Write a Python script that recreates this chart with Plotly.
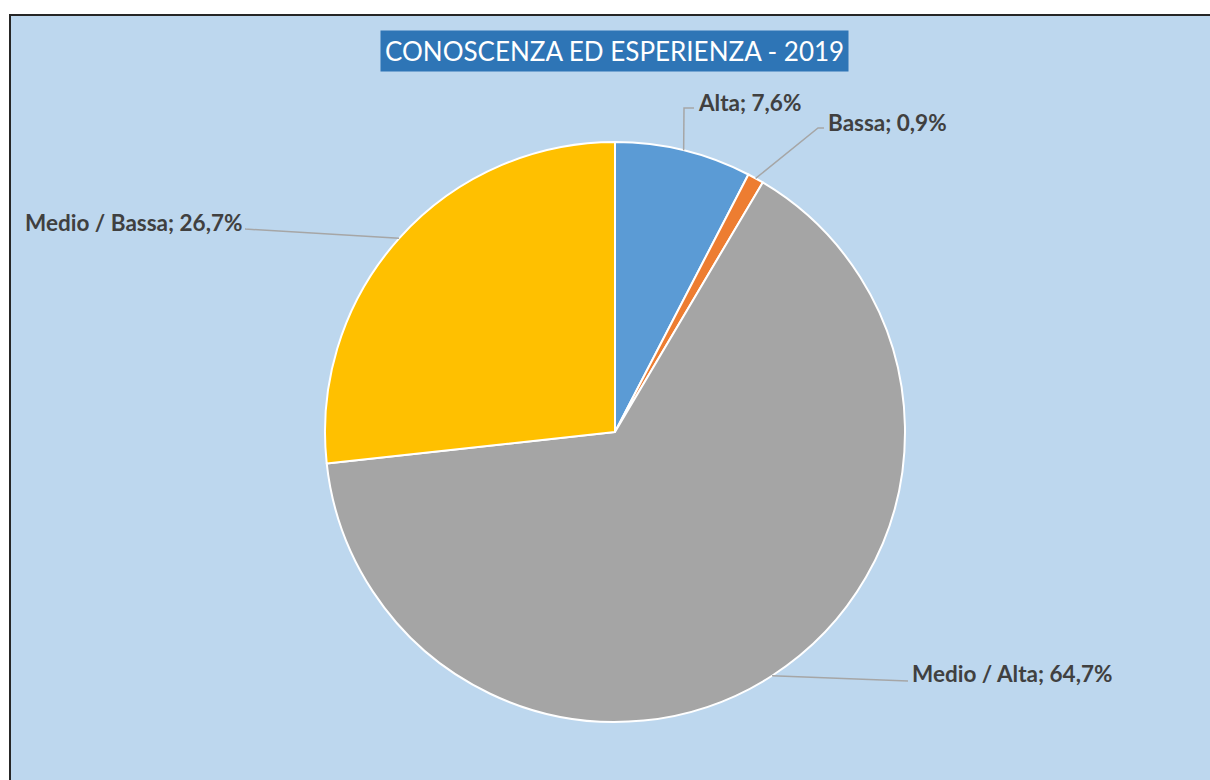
import numpy as np
import plotly.graph_objects as go

# dati del grafico
etichette = ["Alta", "Bassa", "Medio / Alta", "Medio / Bassa"]
valori = [7.6, 0.9, 64.7, 26.7]
colori = ["#5B9BD5", "#ED7D31", "#A5A5A5", "#FFC000"]
titolo = "CONOSCENZA ED ESPERIENZA - 2019"

W, H = 1210, 780
CX, CY, R = 615, 432, 290  # centro e raggio della torta (pixel)


def px(x):
    return x / W


def py(y):
    return 1 - y / H


# punto del bordo a metà di ogni fetta (senso orario da ore 12)
tot = sum(valori)
cum = np.cumsum([0] + valori[:-1])
mid = [(c + v / 2) / tot * 2 * np.pi for c, v in zip(cum, valori)]
bordo = [(CX + R * np.sin(a), CY - R * np.cos(a)) for a in mid]

# posizione delle etichette: (gomito x, gomito y, testo x, testo y, ancora)
pos_etichette = [
    (684, 108, 696, 103, "left"),
    (818, 128, 826, 122, "left"),
    (908, 681, 910, 673, "left"),
    (245, 229, 244, 222, "right"),
]

fig = go.Figure()
fig.add_trace(go.Pie(
    labels=etichette,
    values=valori,
    marker=dict(colors=colori, line=dict(color="white", width=2)),
    sort=False,
    direction="clockwise",
    rotation=0,
    textinfo="none",
    hoverinfo="label+percent",
    showlegend=False,
    domain=dict(x=[px(CX - R), px(CX + R)], y=[py(CY + R), py(CY - R)]),
))

shapes = [
    dict(type="rect", xref="paper", yref="paper",
         x0=px(10), x1=px(W + 100), y0=py(H + 100), y1=py(15),
         fillcolor="#BDD7EE", line=dict(color="#262626", width=2), layer="below"),
]
annotations = [
    dict(text=titolo, xref="paper", yref="paper", x=px(614), y=py(51),
         xanchor="center", yanchor="middle", showarrow=False,
         bgcolor="#2E75B6", borderpad=4,
         font=dict(family="Lato", size=26, color="white")),
]

for (bx, by), (gx, gy, tx, ty, anc), lab, v in zip(bordo, pos_etichette, etichette, valori):
    ex = tx + (2 if anc == "right" else -2)
    shapes.append(dict(
        type="path", xref="paper", yref="paper",
        path=f"M {px(bx)},{py(by)} L {px(gx)},{py(gy)} L {px(ex)},{py(gy)}",
        line=dict(color="#A6A6A6", width=1.5),
    ))
    annotations.append(dict(
        text=f"<b>{lab}; {str(v).replace('.', ',')}%</b>",
        xref="paper", yref="paper", x=px(tx), y=py(ty),
        xanchor=anc, yanchor="middle", showarrow=False,
        font=dict(family="Lato", size=22.5, color="#404040"),
    ))

fig.update_layout(
    width=W, height=H,
    margin=dict(l=0, r=0, t=0, b=0),
    paper_bgcolor="white",
    plot_bgcolor="white",
    shapes=shapes,
    annotations=annotations,
)

fig.write_html(
    "out.html",
    config={"displayModeBar": False},
    post_script="document.body.style.margin='0';document.body.style.overflow='hidden';",
)
